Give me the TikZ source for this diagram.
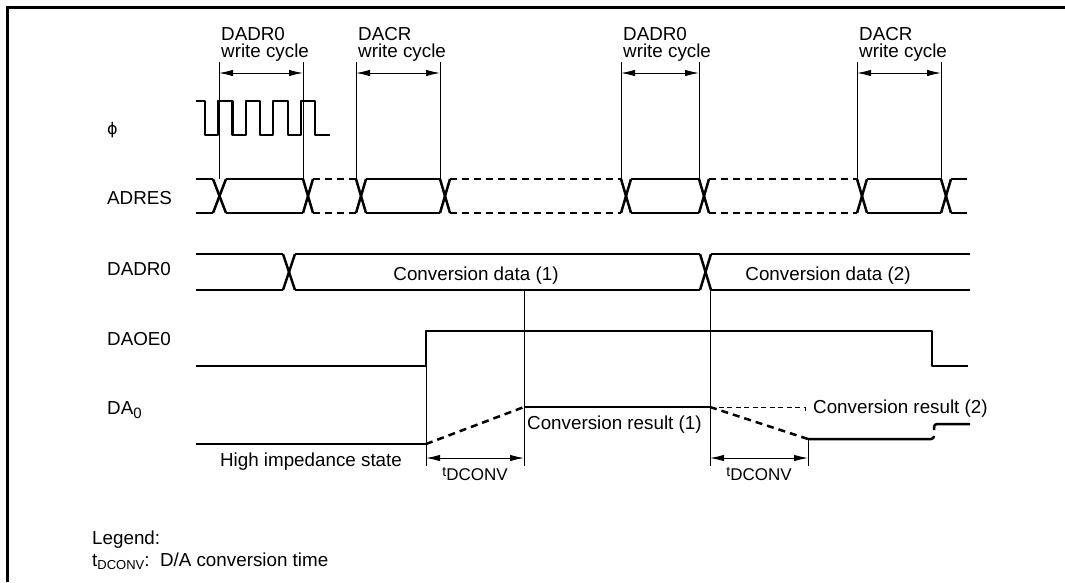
\documentclass[tikz,border=0pt]{standalone}
\usepackage{fontspec}
\setmainfont{Liberation Sans}
\newfontfamily\dvsans{DejaVu Sans}
\usetikzlibrary{arrows.meta}
\begin{document}
\begin{tikzpicture}[x=1pt,y=-1pt,
  sig/.style={line width=2.5pt, line join=round},
  thinl/.style={line width=1pt},
  dsig/.style={sig, dash pattern=on 7pt off 5pt},
  tdash/.style={thinl, dash pattern=on 5pt off 3.5pt},
  dimarrow/.style={thinl, {Latex[length=14pt,width=6.5pt]}-{Latex[length=14pt,width=6.5pt]}},
  lbl/.style={anchor=base west, inner sep=0pt, font=\fontsize{18.8}{21}\selectfont},
  clbl/.style={anchor=base, inner sep=0pt, font=\fontsize{18.8}{21}\selectfont},
]
\useasboundingbox (0,0) rectangle (1065,582);
\fill[white] (0,0) rectangle (1065,582);
\draw[line width=3pt] (7,582) -- (7,7) -- (1065,7);

% signal names
\node[lbl] (lphi) at (107,134) {{\dvsans\fontsize{16}{18}\selectfont ϕ}};
\node[lbl] (ladres) at (107,204) {ADRES};
\node[lbl] (ldadr) at (107,275) {DADR0};
\node[lbl] (ldaoe) at (107,345) {DAOE0};
\node[lbl] (lda) at (107,414) {DA\raisebox{-4pt}{\fontsize{15}{15}\selectfont 0}};

% write cycle markers
\foreach \a/\b/\t [count=\i] in {219/303/DADR0, 356/440/DACR, 621/699/DADR0, 857/941/DACR} {
  \node[lbl] (wt\i) at (\a+2,40) {\t};
  \node[lbl] (wc\i) at (\a+2,57) {write cycle};
  \coordinate (ma\i) at (\a,73);
  \coordinate (mb\i) at (\b,73);
  \draw[thinl] (\a,62) -- (\a,179);
  \draw[thinl] (\b,62) -- (\b,179);
  \draw[dimarrow] (ma\i) -- (mb\i);
}

% clock
\draw[sig] (196,101) -- (205,101) -- (205,135) -- (218,135) -- (218,101)
  -- (232.5,101) -- (232.5,135) -- (246,135) -- (246,101) -- (260,101) -- (260,135)
  -- (273,135) -- (273,101) -- (288,101) -- (288,135) -- (301,135) -- (301,101)
  -- (315,101) -- (315,135) -- (330,135);

% ADRES bus
\def\T{179}\def\B{213}
\foreach \a/\b in {213/226, 303/313, 356/366, 440/450, 621/631, 699/709, 857/867, 941/951} {
  \draw[sig] (\a,\T) -- (\b,\B);
  \draw[sig] (\a,\B) -- (\b,\T);
}
\foreach \a/\b in {196/213, 226/303, 366/440, 631/699, 867/941, 951/967} {
  \draw[sig] (\a,\T) -- (\b,\T);
  \draw[sig] (\a,\B) -- (\b,\B);
}
\foreach \a/\b in {313/356, 450/621, 709/857} {
  \draw[dsig] (\a,\T) -- (\b,\T);
  \draw[dsig] (\a,\B) -- (\b,\B);
}

% DADR0 bus
\def\T{254}\def\B{290}
\foreach \a/\b in {283/295, 700/711} {
  \draw[sig] (\a,\T) -- (\b,\B);
  \draw[sig] (\a,\B) -- (\b,\T);
}
\foreach \a/\b in {196/283, 295/700, 711/970} {
  \draw[sig] (\a,\T) -- (\b,\T);
  \draw[sig] (\a,\B) -- (\b,\B);
}
\node[clbl] (cd1) at (476,280) {Conversion data (1)};
\node[clbl] (cd2) at (828,280) {Conversion data (2)};

% DAOE0
\draw[sig] (196,366) -- (426,366) -- (426,331) -- (932,331) -- (932,366) -- (968,366);

% DA0
\draw[sig] (196,444) -- (426,444);
\draw[dsig] (426,444) -- (524,407);
\draw[sig] (524,407) -- (710,407);
\draw[dsig] (710,407) -- (808,439);
\draw[sig] (808,439) -- (931,439) to[out=0,in=-90] (934,436);
\draw[sig] (934,430) -- (934,427) to[out=90,in=180] (937,424) -- (970,424);
\draw[tdash] (710,407) -- (805,407) -- (805,412);

% timing lines
\draw[thinl] (426,366) -- (426,466);
\draw[thinl] (524,290) -- (524,466);
\draw[thinl] (710,290) -- (710,466);
\draw[thinl] (808,439) -- (808,466);
\coordinate (t1a) at (426,458);
\coordinate (t1b) at (524,458);
\coordinate (t2a) at (710,458);
\coordinate (t2b) at (808,458);
\draw[dimarrow] (t1a) -- (t1b);
\draw[dimarrow] (t2a) -- (t2b);
\node[clbl] (tc1) at (475,480) {{\fontsize{14}{14}\selectfont\raisebox{4pt}{t}}{\fontsize{17}{17}\selectfont DCONV}};
\node[clbl] (tc2) at (759,480) {{\fontsize{14}{14}\selectfont\raisebox{4pt}{t}}{\fontsize{17}{17}\selectfont DCONV}};

\node[clbl] (hz) at (311,466) {High impedance state};
\node[lbl] (cr1) at (527,429) {Conversion result (1)};
\node[lbl] (cr2) at (813,413) {Conversion result (2)};

% legend
\node[lbl] (leg) at (92,544) {Legend:};
\node[lbl] (legt) at (92,566) {t\raisebox{-3pt}{\fontsize{13}{13}\selectfont DCONV}:\ \ D/A conversion time};
\end{tikzpicture}
\end{document}
